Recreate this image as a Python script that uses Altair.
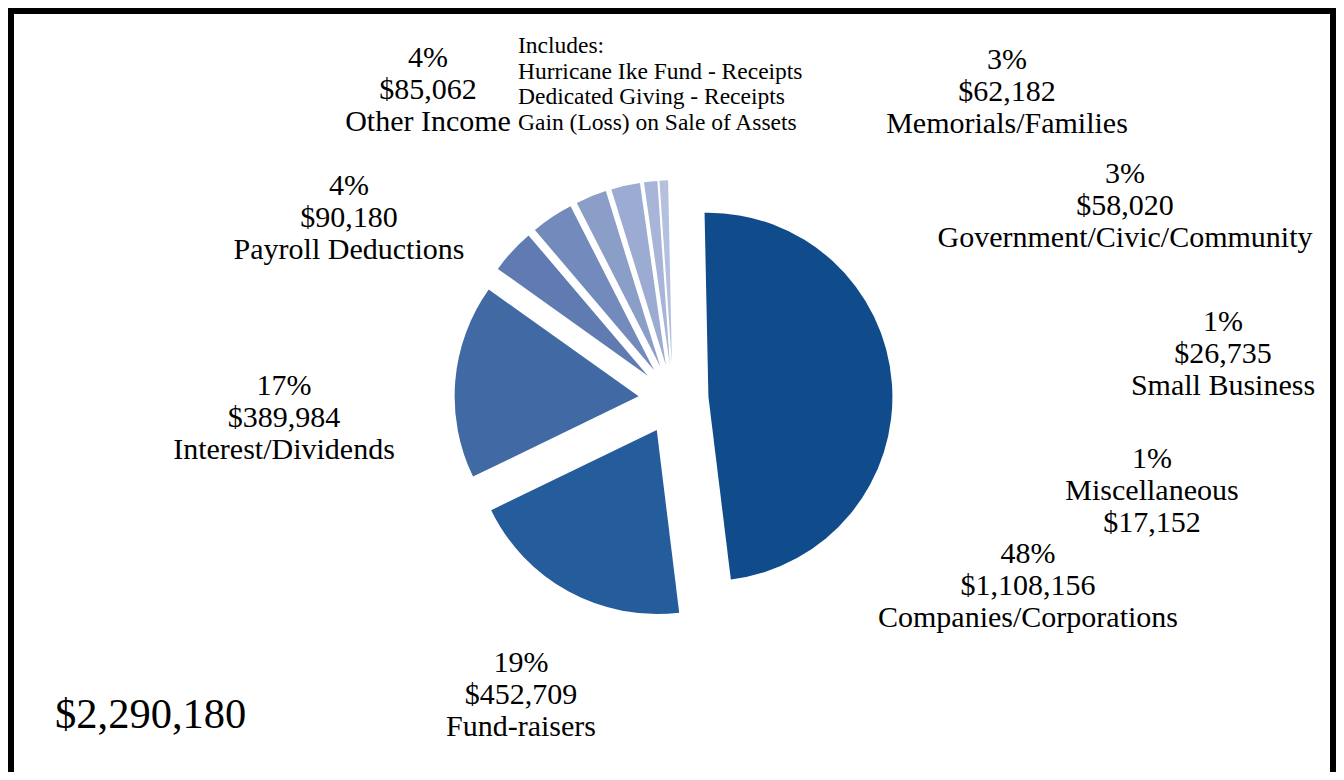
import math
import altair as alt
import pandas as pd

# ---------------- data ----------------
categories = [
    "Companies/Corporations",
    "Fund-raisers",
    "Interest/Dividends",
    "Payroll Deductions",
    "Other Income",
    "Memorials/Families",
    "Government/Civic/Community",
    "Small Business",
    "Miscellaneous",
]
values = [1108156, 452709, 389984, 90180, 85062, 62182, 58020, 26735, 17152]
pct_labels = ["48%", "19%", "17%", "4%", "4%", "3%", "3%", "1%", "1%"]
other_income_note = [
    "Includes:",
    "Hurricane Ike Fund - Receipts",
    "Dedicated Giving - Receipts",
    "Gain (Loss) on Sale of Assets",
]

# ---------------- styling / layout ----------------
colors = ["#104c8b", "#255d9c", "#4169a3", "#5f7bb1", "#738abc",
          "#8a9ec8", "#9babd1", "#a8b5d8", "#b5c0df"]
W, H = 1328, 764
PIE_CX, PIE_CY = 665.5, 391.3     # view coordinates of pie centre
PIE_R = 184
EXPLODE = 35
ROT = -1.2 * math.pi / 180
FONT = "Liberation Serif"
# label anchor (centre x, first baseline y) in view coordinates
label_pos = [
    (1020, 555), (513, 664), (276, 387), (341, 187), (420, 59),
    (999, 61), (1117, 175), (1215, 323), (1144, 460),
]
# line order of each label: p = percent, v = value, n = name
label_order = ["pvn", "pvn", "pvn", "pvn", "pvn", "pvn", "pvn", "pvn", "pnv"]

# ---------------- tables ----------------
pie_df = pd.DataFrame({"category": categories, "value": values,
                       "order": list(range(len(categories)))})

def money(v):
    return "${:,}".format(v)

label_text = []
for cat, val, pct, order in zip(categories, values, pct_labels, label_order):
    parts = {"p": pct, "v": money(val), "n": cat}
    label_text.append("\n".join(parts[c] for c in order))
lab_df = pd.DataFrame({
    "text": label_text,
    "lx": [p[0] for p in label_pos],
    "ly": [p[1] for p in label_pos],
})

pie = (
    alt.Chart(pie_df)
    .transform_window(cum="sum(value)", sort=[alt.SortField("order")], frame=[None, 0])
    .transform_joinaggregate(total="sum(value)")
    .transform_calculate(
        t1=f"2*PI*datum.cum/datum.total + ({ROT})",
        t0=f"2*PI*(datum.cum-datum.value)/datum.total + ({ROT})",
    )
    .transform_calculate(mid="(datum.t0+datum.t1)/2")
    .transform_calculate(
        cx=f"{PIE_CX} + {EXPLODE}*sin(datum.mid)",
        cy=f"{PIE_CY} - {EXPLODE}*cos(datum.mid)",
    )
    .mark_arc(outerRadius=PIE_R)
    .encode(
        theta=alt.Theta("t0:Q", scale=None, stack=None),
        theta2="t1:Q",
        x=alt.X("cx:Q", scale=None, axis=None),
        y=alt.Y("cy:Q", scale=None, axis=None),
        color=alt.Color("category:N", scale=alt.Scale(domain=categories, range=colors), legend=None),
        order=alt.Order("order:Q"),
    )
)

labels = (
    alt.Chart(lab_df)
    .mark_text(font=FONT, fontSize=30, lineBreak="\n", lineHeight=32,
               align="center", baseline="alphabetic", color="black")
    .encode(
        x=alt.X("lx:Q", scale=None, axis=None),
        y=alt.Y("ly:Q", scale=None, axis=None),
        text="text:N",
    )
)

note = (
    alt.Chart(pd.DataFrame({"text": ["\n".join(other_income_note)]}))
    .mark_text(font=FONT, fontSize=23.5, lineBreak="\n", lineHeight=25.5,
               align="left", baseline="alphabetic", color="black")
    .encode(x=alt.value(510), y=alt.value(45), text="text:N")
)

total = (
    alt.Chart(pd.DataFrame({"text": [money(sum(values))]}))
    .mark_text(font=FONT, fontSize=42.5, align="left", baseline="alphabetic", color="black")
    .encode(x=alt.value(47), y=alt.value(720), text="text:N")
)

one = pd.DataFrame({"a": [0]})
border_left = alt.Chart(one).mark_rule(color="black", strokeWidth=6).encode(
    x=alt.value(3), y=alt.value(0), y2=alt.value(H + 10))
border_top = alt.Chart(one).mark_rule(color="black", strokeWidth=6).encode(
    x=alt.value(0), x2=alt.value(W), y=alt.value(3))
border_right = alt.Chart(one).mark_rule(color="black", strokeWidth=6).encode(
    x=alt.value(W - 3), y=alt.value(0), y2=alt.value(H + 10))

chart = (
    alt.layer(pie, labels, note, total, border_left, border_top, border_right)
    .properties(width=W, height=H, padding=0, background="white",
                autosize=alt.AutoSizeParams(type="none"))
    .configure_view(stroke=None)
)

chart.save("out.html", embed_options={"renderer": "svg", "actions": False})
